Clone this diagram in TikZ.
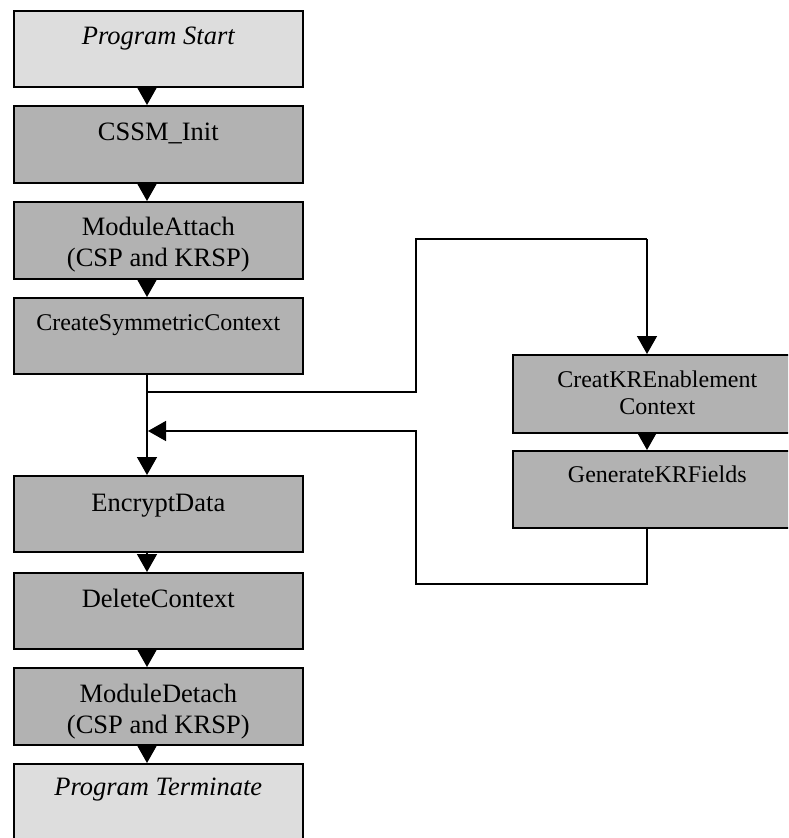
\documentclass[tikz,border=0pt]{standalone}
\usepackage{fontspec}
\setmainfont{Liberation Serif}
\usetikzlibrary{arrows.meta}

\definecolor{endfill}{HTML}{DDDDDD}
\definecolor{stepfill}{HTML}{B2B2B2}

% box body: fixed size, text hung from the top edge at a given baseline offset
\newcommand{\boxbody}[4]{\parbox[c][#2pt][t]{#1pt}{\centering\rule{0pt}{#3pt}#4}}
\newcommand{\bigtext}{\fontsize{26.5}{31}\selectfont}
\newcommand{\smalltext}{\fontsize{24}{27}\selectfont}

\begin{document}
\begin{tikzpicture}[x=1pt,y=-1pt,
  stagebox/.style={draw=black, line width=1.6pt, fill=stepfill, inner sep=0pt, anchor=north west},
  endbox/.style={stagebox, fill=endfill},
  flow/.style={line width=1.5pt, -{Triangle[length=18pt,width=20pt]}},
  wire/.style={line width=1.5pt}]
\useasboundingbox (0,0) rectangle (788,838);
\clip (0,0) rectangle (788,838);

% main column
\node[endbox]   (ps)   at (13,10)  {\boxbody{289}{76}{34}{\bigtext\itshape Program Start}};
\node[stagebox] (cssm) at (13,105) {\boxbody{289}{77}{35}{\bigtext CSSM\_Init}};
\node[stagebox] (ma)   at (13,201) {\boxbody{289}{77}{34}{\bigtext ModuleAttach\\(CSP and KRSP)}};
\node[stagebox] (csc)  at (13,297) {\boxbody{289}{76}{33}{\smalltext CreateSymmetricContext}};
\node[stagebox] (ed)   at (13,475) {\boxbody{289}{76}{36}{\bigtext EncryptData}};
\node[stagebox] (dc)   at (13,572) {\boxbody{289}{76}{35}{\bigtext DeleteContext}};
\node[stagebox] (md)   at (13,667) {\boxbody{289}{77}{35}{\bigtext ModuleDetach\\(CSP and KRSP)}};
\node[endbox]   (pt)   at (13,763) {\boxbody{289}{90}{32}{\bigtext\itshape Program Terminate}};

% key recovery column
\node[stagebox] (ckr)  at (512,354) {\boxbody{289}{78}{33}{\smalltext CreatKREnablement\\Context}};
\node[stagebox] (gkr)  at (512,450) {\boxbody{289}{77}{32}{\smalltext GenerateKRFields}};

% routing points
\coordinate (split) at (147,392);
\coordinate (join)  at (148,431);
\coordinate (busx)  at (416,0);
\coordinate (top)   at (0,239);
\coordinate (low)   at (0,584);

% main sequence (flow line runs left of the box centres)
\draw[flow] ([xshift=134pt]ps.south west)   -- ([xshift=134pt]cssm.north west);
\draw[flow] ([xshift=134pt]cssm.south west) -- ([xshift=134pt]ma.north west);
\draw[flow] ([xshift=134pt]ma.south west)   -- ([xshift=134pt]csc.north west);
\draw[flow] ([xshift=134pt]csc.south west)  -- ([xshift=134pt]ed.north west);
\draw[flow] ([xshift=134pt]ed.south west)   -- ([xshift=134pt]dc.north west);
\draw[flow] ([xshift=134pt]dc.south west)   -- ([xshift=134pt]md.north west);
\draw[flow] ([xshift=134pt]md.south west)   -- ([xshift=134pt]pt.north west);

% detour through key recovery
\draw[wire] (split) -- (split -| busx) -- (busx |- top) -- ([xshift=135pt]ckr.north west |- top);
\draw[flow] ([xshift=135pt]ckr.north west |- top) -- ([xshift=135pt]ckr.north west);
\draw[flow] ([xshift=135pt]ckr.south west) -- ([xshift=135pt]gkr.north west);
\draw[flow] ([xshift=135pt]gkr.south west) -- ([xshift=135pt]gkr.south west |- low)
  -- (busx |- low) -- (busx |- join) -- (join);
\end{tikzpicture}
\end{document}
